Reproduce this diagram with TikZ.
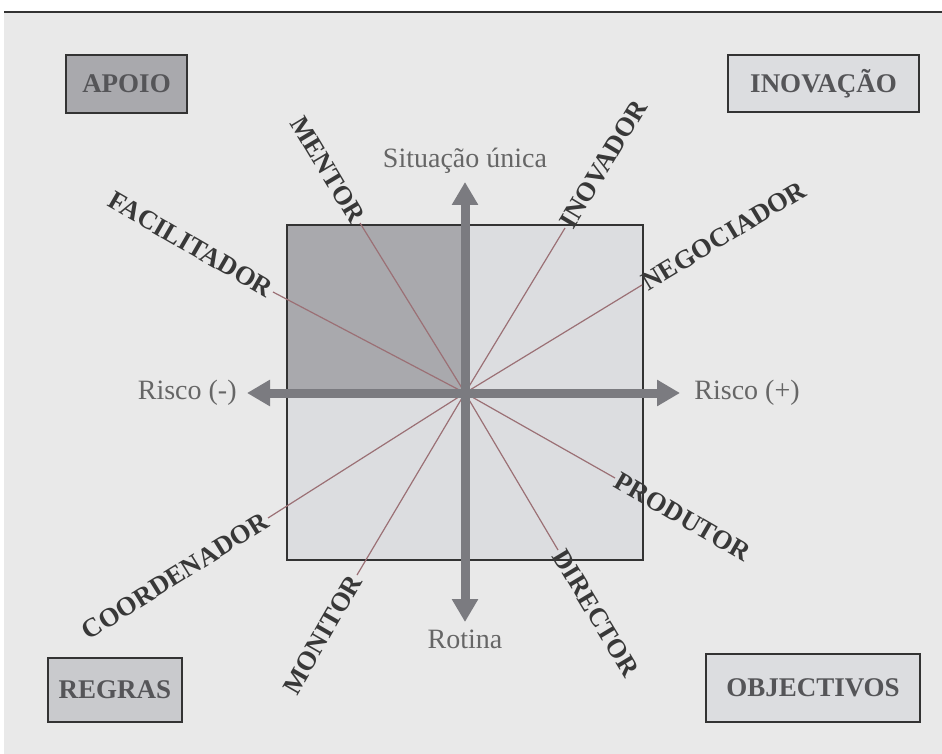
\documentclass[tikz,border=0pt]{standalone}
\usepackage{fontspec}
\setmainfont{Liberation Serif}
\usetikzlibrary{arrows.meta,positioning,calc}
\definecolor{bgcol}{HTML}{E9E9E9}
\definecolor{darkfill}{HTML}{A9A9AD}
\definecolor{lightfill}{HTML}{DCDDE0}
\definecolor{midfill}{HTML}{C9CACD}
\definecolor{framecol}{HTML}{333333}
\definecolor{axiscol}{HTML}{7B7B80}
\definecolor{raycol}{HTML}{9B7075}
\definecolor{boxtext}{HTML}{555558}
\definecolor{roletext}{HTML}{383838}
\definecolor{axtext}{HTML}{666666}

\begin{document}
\begin{tikzpicture}[
  x=0.5pt, y=-0.5pt,
  quad/.style={draw=framecol, line width=0.8pt, align=center, inner sep=0pt,
    font=\fontsize{13.5}{16}\selectfont\bfseries, text=boxtext},
  role/.style={inner sep=1pt, font=\fontsize{13.3}{16}\selectfont\bfseries, text=roletext},
  axlabel/.style={inner sep=1pt, font=\fontsize{14}{16}\selectfont, text=axtext},
  ray/.style={draw=raycol, line width=0.6pt},
  axis/.style={{Triangle[length=11.5pt,width=12.5pt]}-{Triangle[length=11.5pt,width=12.5pt]},
    line width=4.5pt, draw=axiscol}
]
\useasboundingbox (0,0) rectangle (942,754);

% Background and top rule
\fill[bgcol] (4,13) rectangle (942,754);
\draw[framecol, line width=1pt] (4,12) -- (942,12);

% Corner boxes
\node[quad, fill=darkfill, minimum width=60.5pt, minimum height=29pt] (apoio) at (126.5,84) {APOIO};
\node[quad, fill=lightfill, minimum width=95.5pt, minimum height=28.5pt] (inovacao) at (823.5,83.5) {INOVAÇÃO};
\node[quad, fill=midfill, minimum width=67pt, minimum height=32pt] (regras) at (115,690) {REGRAS};
\node[quad, fill=lightfill, minimum width=107pt, minimum height=34pt] (objectivos) at (813,688) {OBJECTIVOS};

% Central square
\fill[lightfill] (287,225) rectangle (643,560);
\fill[darkfill] (287,225) rectangle (465,393);
\draw[framecol, line width=0.8pt] (287,225) rectangle (643,560);
\coordinate (c) at (465,393);

% Roles
\node[role, anchor=east, rotate=-59] (mentor) at (360,223) {MENTOR};
\node[role, anchor=west, rotate=59] (inovador) at (565,228) {INOVADOR};
\node[role, anchor=east, rotate=-30] (facilitador) at (273,292) {FACILITADOR};
\node[role, anchor=west, rotate=31] (negociador) at (642,285) {NEGOCIADOR};
\node[role, anchor=east, rotate=32] (coordenador) at (268,518) {COORDENADOR};
\node[role, anchor=east, rotate=60] (monitor) at (357,575) {MONITOR};
\node[role, anchor=west, rotate=-30] (produtor) at (615,478) {PRODUTOR};
\node[role, anchor=west, rotate=-59] (director) at (558,550) {DIRECTOR};

% Rays
\foreach \r/\a in {mentor/east, inovador/west, facilitador/east, negociador/west,
    coordenador/east, monitor/east, produtor/west, director/west}
  \draw[ray] (c) -- (\r.\a);

% Axes
\coordinate (top) at (465,182);
\coordinate (bot) at (465,622);
\coordinate (lft) at (247,393);
\coordinate (rgt) at (680,393);
\draw[axis] (bot) -- (top);
\draw[axis] (lft) -- (rgt);

% Axis labels
\node[axlabel, above=3pt of top] (unica) {Situação única};
\node[axlabel, below=3pt of bot] (rotina) {Rotina};
\node[axlabel, left=4pt of lft] (risconeg) {Risco (-)};
\node[axlabel, right=6pt of rgt] (riscopos) {Risco (+)};

\end{tikzpicture}
\end{document}
